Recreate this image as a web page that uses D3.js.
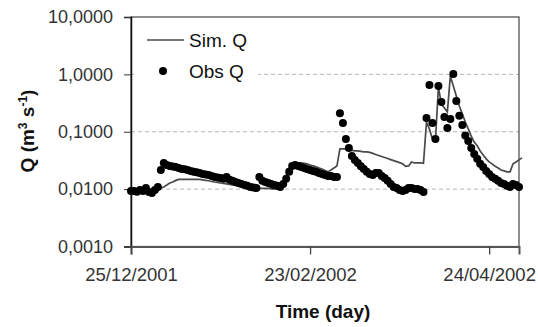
<!DOCTYPE html>
<html lang="en">
<head>
  <meta charset="UTF-8">
  <title>Sim Q vs Obs Q</title>
  <style>
    body { margin: 0; background: #fff; }
    svg { display: block; font-family: "Liberation Sans", Arial, sans-serif; }
  </style>
</head>
<body>
  <svg id="svg" width="538" height="327"></svg>

  <script src="https://cdnjs.cloudflare.com/ajax/libs/d3/7.8.5/d3.min.js"></script>
  <script>
    // daily series, first value is 25/12/2001
    const startDate = '2001-12-25'
    const endDate = '2002-05-04'

    const obsQ = [
      0.0093, 0.0093, 0.0090, 0.0097, 0.0093, 0.0105, 0.0089, 0.0086, 0.0097, 0.0109,
      0.0216, 0.0286, 0.0264, 0.0254, 0.0249, 0.0244, 0.0234, 0.0225, 0.0221, 0.0216,
      0.0208, 0.0200, 0.0196, 0.0191, 0.0184, 0.0180, 0.0177, 0.0170, 0.0163, 0.0160,
      0.0157, 0.0151, 0.0163, 0.0145, 0.0140, 0.0133, 0.0128, 0.0123, 0.0118, 0.0114,
      0.0109, 0.0107, 0.0105, 0.0163, 0.0140, 0.0133, 0.0128, 0.0123, 0.0118, 0.0114,
      0.0109, 0.0123, 0.0151, 0.0200, 0.0254, 0.0264, 0.0254, 0.0244, 0.0234, 0.0225,
      0.0216, 0.0208, 0.0200, 0.0191, 0.0184, 0.0177, 0.0170, 0.0170, 0.0163, 0.0163,
      0.210, 0.142, 0.075, 0.052, 0.0378, 0.0323, 0.0286, 0.0250, 0.0225, 0.0200,
      0.0184, 0.0177, 0.0191, 0.0191, 0.0170, 0.0157, 0.0140, 0.0123, 0.0109, 0.0105,
      0.0097, 0.0093, 0.0097, 0.0105, 0.0105, 0.0101, 0.0101, 0.0097, 0.0089,
      0.174, 0.654, 0.142, 0.075, 0.628, 0.330, 0.181, 0.116, 0.167, 1.02,
      0.344, 0.190, 0.131, 0.086, 0.069, 0.052, 0.041, 0.034, 0.0276, 0.0244,
      0.0208, 0.0184, 0.0163, 0.0151, 0.0140, 0.0128, 0.0123, 0.0114, 0.0109, 0.0123,
      0.0118, 0.0109
    ]

    const simQ = [
      0.0089, 0.0088, 0.0087, 0.0087, 0.0086, 0.0086, 0.0085, 0.0085, 0.0086, 0.0101,
      0.0105, 0.0109, 0.0118, 0.0128, 0.0133, 0.0142, 0.0148, 0.0148, 0.0148, 0.0148,
      0.0148, 0.0148, 0.0148, 0.0148, 0.0145, 0.0142, 0.0140, 0.0136, 0.0133, 0.0131,
      0.0128, 0.0126, 0.0123, 0.0121, 0.0118, 0.0116, 0.0114, 0.0111, 0.0109, 0.0107,
      0.0105, 0.0105, 0.0103, 0.0103, 0.0103, 0.0103, 0.0103, 0.0101, 0.0101, 0.0101,
      0.0103, 0.0118, 0.0170, 0.0234, 0.0286, 0.0286, 0.0286, 0.0286, 0.0281, 0.0276,
      0.0264, 0.0254, 0.0244, 0.0234, 0.0225, 0.0212, 0.0200, 0.0216, 0.0234, 0.0254,
      0.0501, 0.0501, 0.0501, 0.0482, 0.0472, 0.0463, 0.0463, 0.0454, 0.0445, 0.0445,
      0.0436, 0.0419, 0.0402, 0.0386, 0.0370, 0.0355, 0.0341, 0.0327, 0.0314, 0.0302,
      0.0290, 0.0276, 0.0249, 0.0254, 0.0298, 0.0286, 0.0286, 0.0286, 0.0281,
      0.148, 0.111, 0.075, 0.069, 0.604, 0.300, 0.260, 0.222, 0.940, 0.628,
      0.420, 0.280, 0.205, 0.148, 0.112, 0.084, 0.066, 0.057, 0.0463, 0.0395,
      0.0337, 0.0298, 0.0276, 0.0250, 0.0234, 0.0216, 0.0208, 0.0200, 0.0200, 0.0276,
      0.0298, 0.0323, 0.0350
    ]

    const yTicks = [10, 1, 0.1, 0.01, 0.001]
    const yGrid = [1, 0.1, 0.01]
    const xTicks = ['2001-12-25', '2002-02-23', '2002-04-24']

    const parse = d3.timeParse('%Y-%m-%d')
    const t0 = parse(startDate)
    const dayOf = i => d3.timeDay.offset(t0, i)

    const plotL = 131, plotR = 519, plotT = 17, plotB = 246.5

    const xScale = d3.scaleTime()
      .domain([t0, parse(endDate)])
      .range([plotL, plotR])

    const yScale = d3.scaleLog()
      .domain([0.001, 10])
      .range([plotB, plotT])

    const fmtY = d => d3.format('.4f')(d).replace('.', ',')
    const fmtX = d3.timeFormat('%d/%m/%Y')

    const svg = d3.select('#svg')

    // grid lines
    svg.append('g')
      .selectAll('line')
      .data(yGrid)
      .enter()
      .append('line')
      .attr('x1', plotL)
      .attr('x2', plotR)
      .attr('y1', d => yScale(d))
      .attr('y2', d => yScale(d))
      .attr('stroke', '#b4b4b4')
      .attr('stroke-width', 1)
      .attr('stroke-dasharray', '4,3')

    // legend background covers the grid line
    svg.append('rect')
      .attr('x', plotL + 3)
      .attr('y', plotT + 3)
      .attr('width', 124)
      .attr('height', 70)
      .attr('fill', '#fff')

    // plot frame
    svg.append('rect')
      .attr('x', plotL)
      .attr('y', plotT)
      .attr('width', plotR - plotL)
      .attr('height', plotB - plotT)
      .attr('fill', 'none')
      .attr('stroke', '#444')
      .attr('stroke-width', 1.2)

    // y axis
    const yAxis = svg.append('g')
      .attr('transform', `translate(${plotL},0)`)
      .call(d3.axisLeft(yScale).tickValues(yTicks).tickFormat(fmtY).tickSize(7).tickPadding(11))
    yAxis.select('.domain').attr('stroke', '#111').attr('stroke-width', 1.5)
    yAxis.selectAll('.tick line').attr('stroke', '#333')
    yAxis.selectAll('text')
      .style('font-size', '18px')
      .style('font-family', '"Liberation Sans", Arial, sans-serif')
      .attr('fill', '#333')

    // x axis
    const xAxis = svg.append('g')
      .attr('transform', `translate(0,${plotB})`)
      .call(d3.axisBottom(xScale).tickValues(xTicks.map(parse)).tickFormat(fmtX).tickSize(8).tickPadding(13))
    xAxis.select('.domain').attr('stroke', '#555').attr('stroke-width', 2)
    xAxis.selectAll('.tick line').attr('stroke', '#444').attr('stroke-width', 1.3)
    xAxis.selectAll('text')
      .style('font-size', '18.5px')
      .style('font-family', '"Liberation Sans", Arial, sans-serif')
      .attr('fill', '#333')

    // simulated Q
    const line = d3.line()
      .x((d, i) => xScale(dayOf(i)))
      .y(d => yScale(d))

    svg.append('path')
      .datum(simQ)
      .attr('d', line)
      .attr('fill', 'none')
      .attr('stroke', '#4a4a4a')
      .attr('stroke-width', 1.7)

    // observed Q
    svg.append('g')
      .selectAll('circle')
      .data(obsQ)
      .enter()
      .append('circle')
      .attr('cx', (d, i) => xScale(dayOf(i)))
      .attr('cy', d => yScale(d))
      .attr('r', 4)
      .attr('fill', '#000')

    // legend items
    const legend = svg.append('g')
    legend.append('line')
      .attr('x1', 147).attr('x2', 184)
      .attr('y1', 40).attr('y2', 40)
      .attr('stroke', '#4a4a4a')
      .attr('stroke-width', 1.7)
    legend.append('text')
      .attr('x', 189).attr('y', 47)
      .style('font-size', '19px')
      .attr('fill', '#111')
      .text('Sim. Q')
    legend.append('circle')
      .attr('cx', 163).attr('cy', 71)
      .attr('r', 4)
      .attr('fill', '#000')
    legend.append('text')
      .attr('x', 189).attr('y', 78)
      .style('font-size', '19px')
      .attr('fill', '#111')
      .text('Obs Q')

    // axis titles
    svg.append('text')
      .attr('x', 323).attr('y', 318)
      .attr('text-anchor', 'middle')
      .style('font-size', '19px')
      .style('font-weight', 'bold')
      .attr('fill', '#111')
      .text('Time (day)')

    const yTitle = svg.append('text')
      .attr('transform', 'translate(34,131) rotate(-90)')
      .attr('text-anchor', 'middle')
      .style('font-size', '19px')
      .style('font-weight', 'bold')
      .attr('fill', '#111')
    yTitle.append('tspan').text('Q (m')
    yTitle.append('tspan').attr('dy', -7).style('font-size', '12px').text('3')
    yTitle.append('tspan').attr('dy', 7).text(' s')
    yTitle.append('tspan').attr('dy', -7).style('font-size', '12px').text('-1')
    yTitle.append('tspan').attr('dy', 7).text(')')
  </script>
</body>
</html>
